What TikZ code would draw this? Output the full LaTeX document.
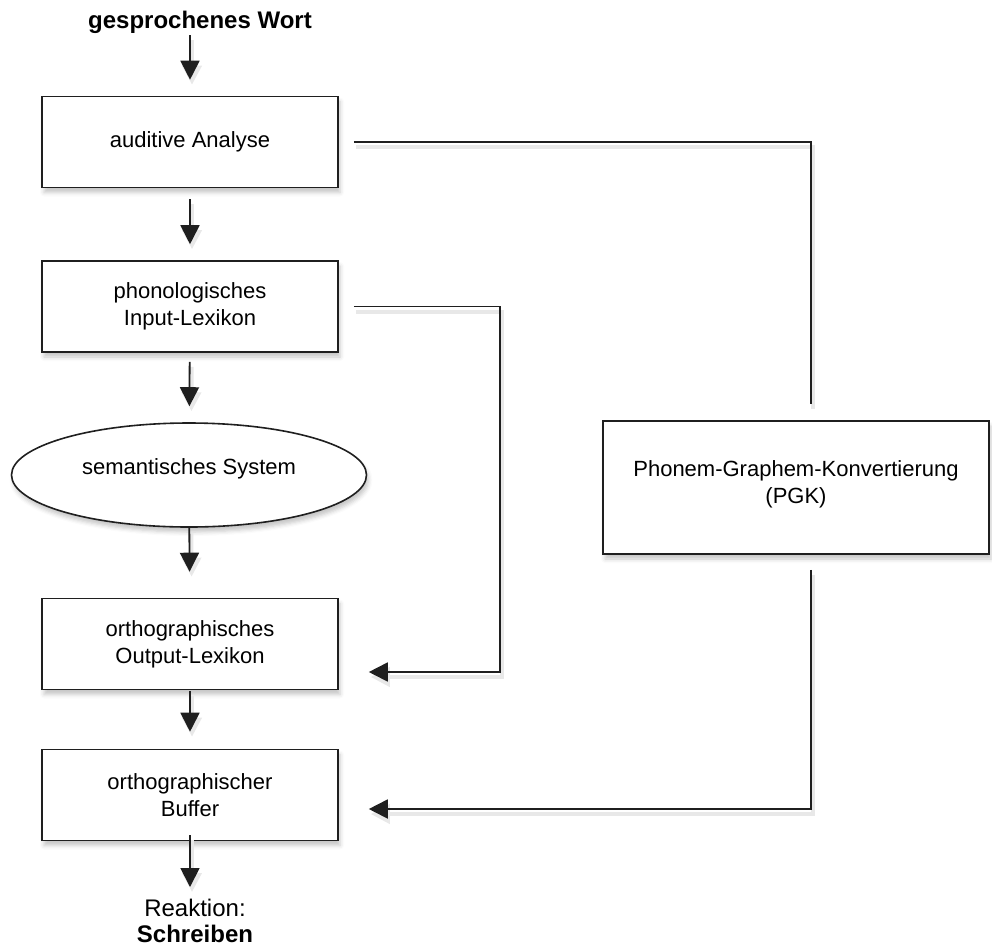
\documentclass[tikz,border=0pt]{standalone}
\usepackage{fontspec}
\setmainfont{Liberation Sans}
\usetikzlibrary{arrows.meta,shapes.geometric,shadows.blur}
\begin{document}
\begin{tikzpicture}[x=1pt,y=-1pt,
  softshadow/.style={blur shadow={shadow xshift=2pt, shadow yshift=-5pt,
      shadow blur radius=4pt, shadow opacity=22}},
  stage/.style={rectangle, draw=black!88, line width=1.6pt, fill=white,
      minimum width=296pt, minimum height=91pt, inner sep=0pt, align=center,
      font=\fontsize{22}{27}\selectfont, softshadow},
  oval/.style={ellipse, draw=black!88, line width=1.6pt, fill=white,
      minimum width=355pt, minimum height=104pt, inner sep=0pt,
      font=\fontsize{22}{27}\selectfont, softshadow},
  caption/.style={inner sep=0pt, align=center, font=\fontsize{24}{26}\selectfont},
  lineshadow/.style={preaction={draw=black!9, line width=4pt,
      transform canvas={xshift=2pt, yshift=-5pt}}},
  link/.style={draw=black!88, line width=1.8pt, lineshadow},
  flow/.style={link, -{Triangle[length=19pt,width=19pt]}}
]
\useasboundingbox (0,0) rectangle (992,951);

% stages of the writing route
\node[caption, font=\fontsize{24}{27}\selectfont\bfseries] (title) at (200,22) {gesprochenes Wort};
\node[stage] (aud)  at (190,142)   {auditive Analyse};
\node[stage] (phon) at (190,306.5) {phonologisches\\Input-Lexikon};
\node[oval, text depth=16.5pt] (sem) at (189,475) {semantisches System};
\node[stage] (orth) at (190,644)   {orthographisches\\Output-Lexikon};
\node[stage] (buf)  at (190,795)   {orthographischer\\Buffer};
\node[stage, minimum width=386pt, minimum height=133pt, text depth=11pt]
     (pgk) at (796,487.5) {Phonem-Graphem-Konvertierung\\(PGK)};
\node[caption, anchor=north] (react) at (195,899) {Reaktion:\\\textbf{Schreiben}};

\coordinate (turn1) at (500,672);

% main vertical route
\draw[flow, shorten <=2pt, shorten >=16pt] (title.south -| aud.north) -- (aud.north);
\draw[flow, shorten <=11pt, shorten >=16pt] (aud) -- (phon);
\draw[flow, shorten <=9pt, shorten >=16pt] (phon) -- (sem);
\draw[flow, shorten >=26pt] (sem) -- (orth);
\draw[flow, shorten <=1pt, shorten >=17pt] (orth) -- (buf);
\draw[flow, shorten <=-6pt, shorten >=12pt] (buf.south) -- (react.north -| buf.south);

% side routes
\draw[link, shorten <=15pt, shorten >=16pt] (aud.east) -| ([xshift=15pt]pgk.north);
\draw[flow, shorten <=15pt, shorten >=30pt] (phon.east) -| (turn1) -- ([yshift=-28pt]orth.east);
\draw[flow, shorten <=15pt, shorten >=30pt] ([xshift=15pt]pgk.south) |- ([yshift=-14pt]buf.east);
\end{tikzpicture}
\end{document}
